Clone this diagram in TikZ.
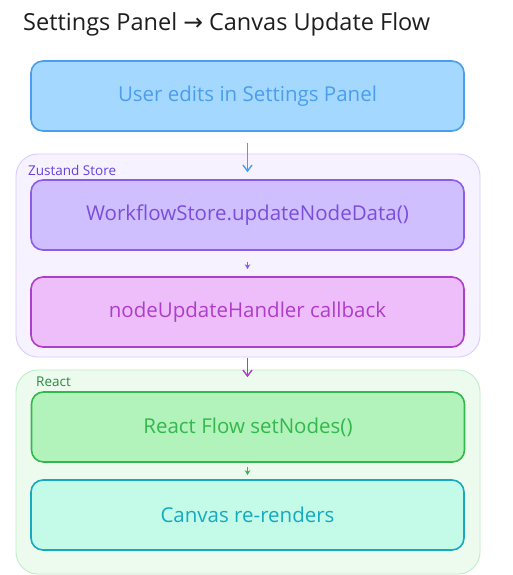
\documentclass[tikz,border=0pt]{standalone}
\usepackage{fontspec}
\setmainfont{Open Sans}
\newfontfamily\symfont{DejaVu Sans}
\usetikzlibrary{arrows.meta}
\definecolor{bluefill}{HTML}{A5D8FF}
\definecolor{bluedraw}{HTML}{4A9EED}
\definecolor{violetfill}{HTML}{D0BFFF}
\definecolor{violetdraw}{HTML}{8C5CE8}
\definecolor{violettext}{HTML}{7C4DDB}
\definecolor{grapefill}{HTML}{EEBEFA}
\definecolor{grapedraw}{HTML}{AE3EC9}
\definecolor{greenfill}{HTML}{B2F2BB}
\definecolor{greendraw}{HTML}{34B84E}
\definecolor{cyanfill}{HTML}{C3FAE8}
\definecolor{cyandraw}{HTML}{15AABF}
\definecolor{zfill}{HTML}{F7F2FF}
\definecolor{zdraw}{HTML}{D9CCFF}
\definecolor{ztext}{HTML}{6741D9}
\definecolor{rfill}{HTML}{EDFBEF}
\definecolor{rdraw}{HTML}{BDEFC6}
\definecolor{rtext}{HTML}{2B8A3E}
\definecolor{titletext}{HTML}{1E1E1E}
\tikzset{
  x=1pt, y=-1pt,
  stepbox/.style={rounded corners=12pt, line width=1.6pt, minimum width=433pt, minimum height=70pt, inner sep=0pt, font=\fontsize{20.5}{24}\selectfont},
  groupbox/.style={rounded corners=22pt, line width=0.9pt},
  grouplabel/.style={anchor=base west, inner sep=0pt, font=\fontsize{13.5}{16}\selectfont},
  flow/.style={line width=1.4pt, -{Straight Barb[length=6pt,width=9pt,line width=1.4pt]}},
  smallflow/.style={line width=1.5pt, -{Stealth[length=5pt,width=5.5pt]}}
}
\begin{document}
\begin{tikzpicture}
\useasboundingbox[fill=white] (0,0) rectangle (512,575);
\node[anchor=base west, inner sep=0pt, text=titletext, font=\fontsize{23.5}{28}\selectfont] (title) at (23,31) {Settings Panel {\symfont →} Canvas Update Flow};
% groups
\draw[groupbox, fill=zfill, draw=zdraw] (16,154) rectangle (480,357);
\node[grouplabel, text=ztext] (zlabel) at (28,175) {Zustand Store};
\draw[groupbox, fill=rfill, draw=rdraw] (16,370) rectangle (480,574);
\node[grouplabel, text=rtext] (rlabel) at (36,386) {React};
% boxes
\node[stepbox, fill=bluefill, draw=bluedraw, text=bluedraw] (b1) at (247.5,96) {User edits in Settings Panel};
\node[stepbox, fill=violetfill, draw=violetdraw, text=violettext] (b2) at (247.5,215) {WorkflowStore.updateNodeData()};
\node[stepbox, fill=grapefill, draw=grapedraw, text=grapedraw] (b3) at (247.5,312) {nodeUpdateHandler callback};
\node[stepbox, fill=greenfill, draw=greendraw, text=greendraw] (b4) at (248,427) {React Flow setNodes()};
\node[stepbox, fill=cyanfill, draw=cyandraw, text=cyandraw] (b5) at (247.5,515) {Canvas re-renders};
% arrows
\draw[flow, draw=bluedraw, shorten <=11pt, shorten >=7pt] (b1.south) -- (b2.north);
\draw[smallflow, draw=violetdraw, fill=violetdraw, shorten <=11pt, shorten >=7pt] (b2.south) -- (b3.north);
\draw[flow, draw=grapedraw, shorten <=10pt, shorten >=14pt] (b3.south) -- (b3.south |- b4.north);
\draw[smallflow, draw=greendraw, fill=greendraw, shorten <=4pt, shorten >=4pt] (b4.south -| b5.north) -- (b5.north);
\end{tikzpicture}
\end{document}
